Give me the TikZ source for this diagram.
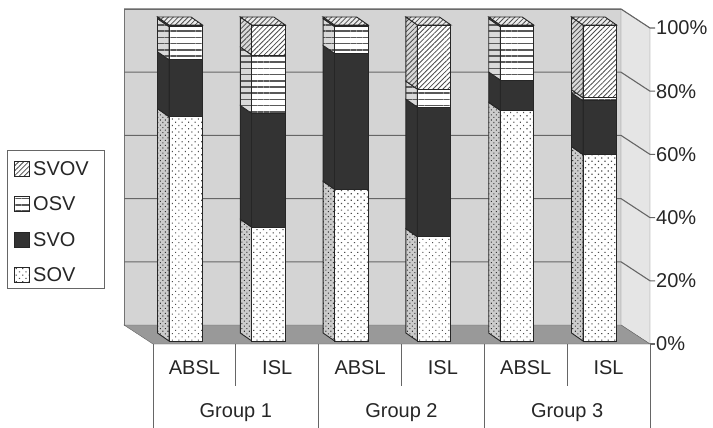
\documentclass[tikz,border=0pt]{standalone}
\usepackage{fontspec}
\setmainfont{Liberation Sans}
\usetikzlibrary{patterns.meta}

\tikzset{
    back wall/.style={fill=gray!34, draw=black!55},
    side wall/.style={fill=gray!20, draw=black!55},
    floor/.style={fill=gray!80, draw=black!60},
    grid line/.style={draw=black!60, line width=1.1pt},
    axis line/.style={draw=black!60, line width=.8pt},
    bar edge/.style={draw=black!85, line width=.9pt},
    sov front/.style={bar edge, preaction={fill=white}, pattern={Dots[angle=45,distance=4.6pt,radius=.8pt]}, pattern color=black!70},
    sov side/.style={bar edge, preaction={fill=gray!40}, pattern={Dots[angle=45,distance=3.6pt,radius=.75pt]}, pattern color=black!80},
    svo front/.style={bar edge, fill=black!80},
    svo side/.style={bar edge, fill=black!80},
    osv front/.style={bar edge, preaction={fill=white}, pattern={Lines[distance=6.2pt,line width=1.6pt]}, pattern color=black!65},
    osv side/.style={bar edge, preaction={fill=gray!30}, pattern={Lines[distance=6.2pt,line width=1.6pt]}, pattern color=black!65},
    svov front/.style={bar edge, preaction={fill=white}, pattern={Lines[angle=45,distance=3.5pt,line width=.8pt]}, pattern color=black!70},
    svov side/.style={bar edge, preaction={fill=gray!30}, pattern={Lines[angle=45,distance=3.5pt,line width=.8pt]}, pattern color=black!70},
    svov top/.style={bar edge, preaction={fill=gray!15}, pattern={Lines[angle=45,distance=3.5pt,line width=.8pt]}, pattern color=black!70},
    legend box/.style={draw=black!60, fill=white},
}

% one stacked piece: bar, from, to, kind
\newcommand{\barpiece}[4]{%
    \pgfmathsetmacro{\xl}{169+82.8*#1}
    \pgfmathsetmacro{\ylo}{341-3.16*#2}
    \pgfmathsetmacro{\yhi}{341-3.16*#3}
    \draw[#4 side] (\xl,\ylo) -- (\xl,\yhi) -- (\xl-11.5,\yhi-8) -- (\xl-11.5,\ylo-8) -- cycle;
    \draw[#4 front] (\xl,\ylo) rectangle (\xl+33.5,\yhi);
}

\begin{document}
\begin{tikzpicture}[x=1pt,y=-1pt,font=\fontsize{20}{23}\selectfont,text=black!85]
    \useasboundingbox (0,0) rectangle (713,428);
    \draw[back wall] (124,9) rectangle (621,325);
    \draw[side wall] (621,9) -- (650,28) -- (650,344) -- (621,325) -- cycle;
    \foreach \v in {20,40,...,100}
        \draw[grid line] (124,325-3.16*\v) -- (621,325-3.16*\v) -- (650,344-3.16*\v) -- (655,344-3.16*\v);
    \draw[grid line] (650,344) -- (655,344);
    \foreach \v in {0,20,...,100}
        \node[anchor=west, inner sep=1pt] (tick\v) at (655,344-3.16*\v) {\v\%};
    \draw[floor] (124,325) -- (621,325) -- (650,344) -- (153,344) -- cycle;

    % bars: tops of SOV, SVO, OSV
    \foreach \i/\a/\b/\c in {0/71/89/99.5, 1/36/72/90.5, 2/48/91/99.5, 3/33/74/79.7, 4/73/82.6/99.5, 5/59/76/77}{
        \barpiece{\i}{0}{\a}{sov}
        \barpiece{\i}{\a}{\b}{svo}
        \barpiece{\i}{\b}{\c}{osv}
        \barpiece{\i}{\c}{100}{svov}
        \pgfmathsetmacro{\xl}{169+82.8*\i}
        \draw[svov top] (\xl,25) -- (\xl+33.5,25) -- (\xl+22,17) -- (\xl-11.5,17) -- cycle;
    }

    % category axis
    \foreach \k in {0,2,4,6}
        \draw[axis line] (153+82.83*\k,344) -- (153+82.83*\k,428);
    \foreach \k in {1,3,5}
        \draw[axis line] (153+82.83*\k,344) -- (153+82.83*\k,386);
    \foreach \g in {1,2,3}{
        \pgfmathsetmacro{\xs}{153+165.67*(\g-1)}
        \node (absl\g) at (\xs+41.4,368) {ABSL};
        \node (isl\g) at (\xs+124.2,368) {ISL};
        \node (group\g) at (\xs+82.8,413) {Group \g};
    }

    % legend
    \draw[legend box] (7,150) rectangle (104,288);
    \foreach \s/\n [count=\k from 0] in {svov/SVOV, osv/OSV, svo/SVO, sov/SOV}{
        \draw[\s\space front] (14,161+35.5*\k) rectangle (29,176+35.5*\k);
        \node[anchor=west, inner sep=1pt] (key\n) at (32,168.5+35.5*\k) {\n};
    }
\end{tikzpicture}
\end{document}
